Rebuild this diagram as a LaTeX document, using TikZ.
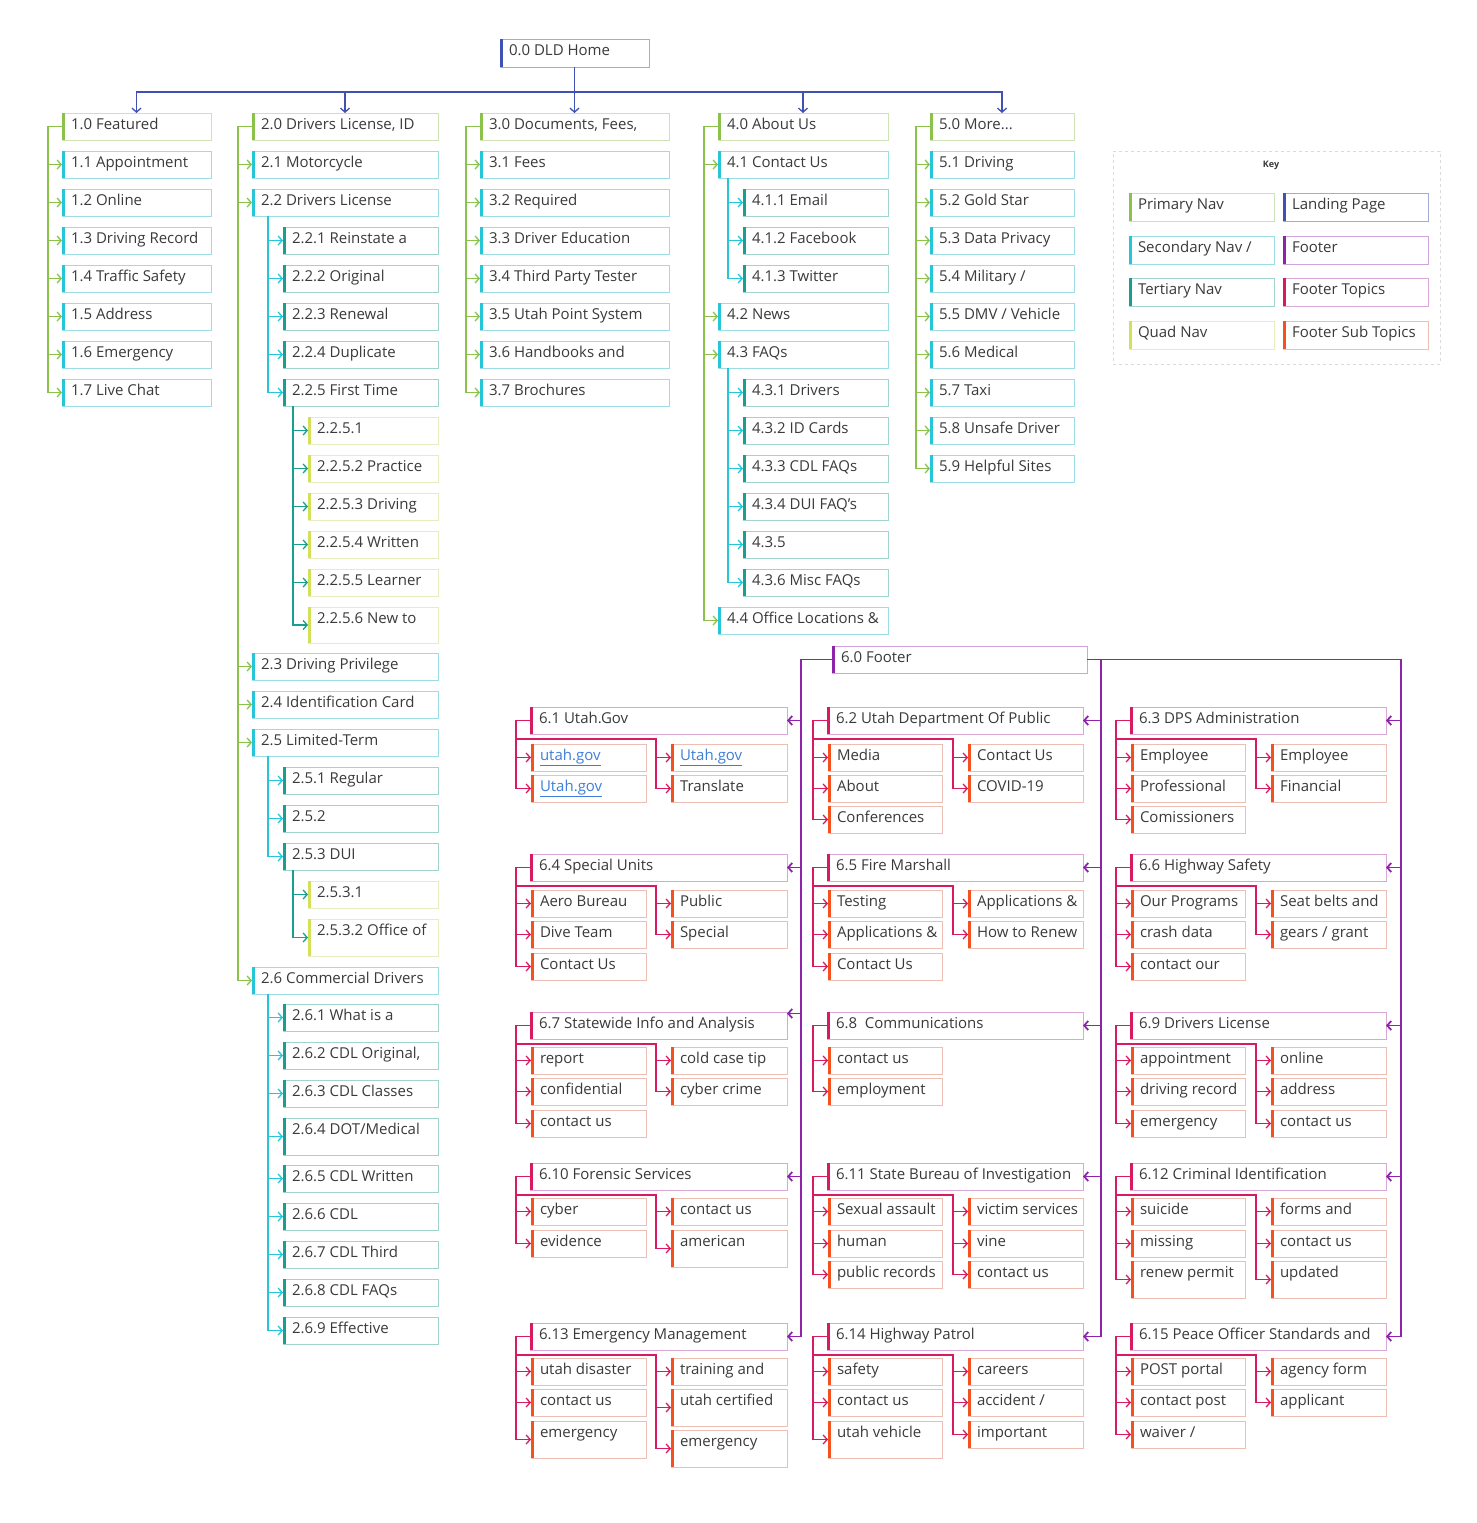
\documentclass[tikz,border=0pt]{standalone}
\usepackage{fontspec}
\setmainfont{Open Sans}
\usetikzlibrary{arrows.meta}
\definecolor{txtc}{HTML}{3A3A3A}
\definecolor{linkc}{HTML}{3F7FD9}
\definecolor{land}{HTML}{3F51B5}\definecolor{landL}{HTML}{A3AAD6}
\definecolor{prim}{HTML}{8BC34A}\definecolor{primL}{HTML}{CDE3B5}
\definecolor{sec}{HTML}{26C6DA}\definecolor{secL}{HTML}{9CDCE4}
\definecolor{tert}{HTML}{1A9E8F}\definecolor{tertL}{HTML}{A0D5CD}
\definecolor{quad}{HTML}{D4E157}\definecolor{quadL}{HTML}{E8EDC0}
\definecolor{foot}{HTML}{8E24AA}\definecolor{footL}{HTML}{CFA4DC}
\definecolor{ftop}{HTML}{D81B60}\definecolor{ftopL}{HTML}{D9A8D6}
\definecolor{fsub}{HTML}{F4511E}\definecolor{fsubL}{HTML}{EDBEB3}
\definecolor{keyL}{HTML}{DADADA}
\newcommand\lnk[1]{\textcolor{linkc}{\underline{#1}}}
\newcommand\navbox[7]{%
  \node[boxsty, draw=#2L, minimum width=#5pt, minimum height=#6pt, anchor=north west] (#1) at (#3,#4) {};
  \node[txtsty, anchor=base west] (#1-t) at ([xshift=9pt,yshift=-16pt]#1.north west) {#7};
  \draw[line width=3pt, #2] ([xshift=1.5pt]#1.north west) -- ([xshift=1.5pt]#1.south west);
}
\tikzset{
  boxsty/.style={rectangle, fill=white, line width=0.9pt, inner sep=0pt, outer sep=0pt},
  txtsty/.style={inner sep=0pt, outer sep=0pt, text=txtc, font=\fontsize{15pt}{17pt}\selectfont},
  tip/.style={-{Straight Barb[length=4pt,width=9pt]}},
  conn/.style={line width=1.3pt, draw=#1, tip},
  fconn/.style={line width=1.8pt, draw=foot, tip},
}
\begin{document}
\begin{tikzpicture}[x=1pt,y=-1pt]
\useasboundingbox[fill=white] (0,0) rectangle (1476,1523);

% ---------- home ----------
\navbox{home}{land}{500}{39}{149}{28}{0.0 DLD Home}

% ---------- column 1 ----------
\navbox{n10}{prim}{62}{113}{149}{27}{1.0 Featured}
\navbox{n11}{sec}{62}{151}{149}{27}{1.1 Appointment}
\navbox{n12}{sec}{62}{189}{149}{27}{1.2 Online}
\navbox{n13}{sec}{62}{227}{149}{27}{1.3 Driving Record}
\navbox{n14}{sec}{62}{265}{149}{27}{1.4 Traffic Safety}
\navbox{n15}{sec}{62}{303}{149}{27}{1.5 Address}
\navbox{n16}{sec}{62}{341}{149}{27}{1.6 Emergency}
\navbox{n17}{sec}{62}{379}{149}{27}{1.7 Live Chat}

% ---------- column 2 ----------
\navbox{n20}{prim}{252}{113}{186}{27}{2.0 Drivers License, ID}
\navbox{n21}{sec}{252}{151}{186}{27}{2.1 Motorcycle}
\navbox{n22}{sec}{252}{189}{186}{27}{2.2 Drivers License}
\navbox{n221}{tert}{283}{227}{155}{27}{2.2.1 Reinstate a}
\navbox{n222}{tert}{283}{265}{155}{27}{2.2.2 Original}
\navbox{n223}{tert}{283}{303}{155}{27}{2.2.3 Renewal}
\navbox{n224}{tert}{283}{341}{155}{27}{2.2.4 Duplicate}
\navbox{n225}{tert}{283}{379}{155}{27}{2.2.5 First Time}
\navbox{n2251}{quad}{308}{417}{130}{27}{2.2.5.1}
\navbox{n2252}{quad}{308}{455}{130}{27}{2.2.5.2 Practice}
\navbox{n2253}{quad}{308}{493}{130}{27}{2.2.5.3 Driving}
\navbox{n2254}{quad}{308}{531}{130}{27}{2.2.5.4 Written}
\navbox{n2255}{quad}{308}{569}{130}{27}{2.2.5.5 Learner}
\navbox{n2256}{quad}{308}{607}{130}{36}{2.2.5.6 New to}
\navbox{n23}{sec}{252}{653}{186}{27}{2.3 Driving Privilege}
\navbox{n24}{sec}{252}{691}{186}{27}{2.4 Identification Card}
\navbox{n25}{sec}{252}{729}{186}{27}{2.5 Limited-Term}
\navbox{n251}{tert}{283}{767}{155}{27}{2.5.1 Regular}
\navbox{n252}{tert}{283}{805}{155}{27}{2.5.2}
\navbox{n253}{tert}{283}{843}{155}{27}{2.5.3 DUI}
\navbox{n2531}{quad}{308}{881}{130}{27}{2.5.3.1}
\navbox{n2532}{quad}{308}{919}{130}{37}{2.5.3.2 Office of}
\navbox{n26}{sec}{252}{967}{186}{27}{2.6 Commercial Drivers}
\navbox{n261}{tert}{283}{1004}{155}{27}{2.6.1 What is a}
\navbox{n262}{tert}{283}{1042}{155}{27}{2.6.2 CDL Original,}
\navbox{n263}{tert}{283}{1080}{155}{27}{2.6.3 CDL Classes}
\navbox{n264}{tert}{283}{1118}{155}{37}{2.6.4 DOT/Medical}
\navbox{n265}{tert}{283}{1165}{155}{27}{2.6.5 CDL Written}
\navbox{n266}{tert}{283}{1203}{155}{27}{2.6.6 CDL}
\navbox{n267}{tert}{283}{1241}{155}{27}{2.6.7 CDL Third}
\navbox{n268}{tert}{283}{1279}{155}{27}{2.6.8 CDL FAQs}
\navbox{n269}{tert}{283}{1317}{155}{27}{2.6.9 Effective}

% ---------- column 3 ----------
\navbox{n30}{prim}{480}{113}{189}{27}{3.0 Documents, Fees,}
\navbox{n31}{sec}{480}{151}{189}{27}{3.1 Fees}
\navbox{n32}{sec}{480}{189}{189}{27}{3.2 Required}
\navbox{n33}{sec}{480}{227}{189}{27}{3.3 Driver Education}
\navbox{n34}{sec}{480}{265}{189}{27}{3.4 Third Party Tester}
\navbox{n35}{sec}{480}{303}{189}{27}{3.5 Utah Point System}
\navbox{n36}{sec}{480}{341}{189}{27}{3.6 Handbooks and}
\navbox{n37}{sec}{480}{379}{189}{27}{3.7 Brochures}

% ---------- column 4 ----------
\navbox{n40}{prim}{718}{113}{170}{27}{4.0 About Us}
\navbox{n41}{sec}{718}{151}{170}{27}{4.1 Contact Us}
\navbox{n411}{tert}{743}{189}{145}{27}{4.1.1 Email}
\navbox{n412}{tert}{743}{227}{145}{27}{4.1.2 Facebook}
\navbox{n413}{tert}{743}{265}{145}{27}{4.1.3 Twitter}
\navbox{n42}{sec}{718}{303}{170}{27}{4.2 News}
\navbox{n43}{sec}{718}{341}{170}{27}{4.3 FAQs}
\navbox{n431}{tert}{743}{379}{145}{27}{4.3.1 Drivers}
\navbox{n432}{tert}{743}{417}{145}{27}{4.3.2 ID Cards}
\navbox{n433}{tert}{743}{455}{145}{27}{4.3.3 CDL FAQs}
\navbox{n434}{tert}{743}{493}{145}{27}{4.3.4 DUI FAQ's}
\navbox{n435}{tert}{743}{531}{145}{27}{4.3.5}
\navbox{n436}{tert}{743}{569}{145}{27}{4.3.6 Misc FAQs}
\navbox{n44}{sec}{718}{607}{170}{27}{4.4 Office Locations \&}

% ---------- column 5 ----------
\navbox{n50}{prim}{930}{113}{144}{27}{5.0 More...}
\navbox{n51}{sec}{930}{151}{144}{27}{5.1 Driving}
\navbox{n52}{sec}{930}{189}{144}{27}{5.2 Gold Star}
\navbox{n53}{sec}{930}{227}{144}{27}{5.3 Data Privacy}
\navbox{n54}{sec}{930}{265}{144}{27}{5.4 Military /}
\navbox{n55}{sec}{930}{303}{144}{27}{5.5 DMV / Vehicle}
\navbox{n56}{sec}{930}{341}{144}{27}{5.6 Medical}
\navbox{n57}{sec}{930}{379}{144}{27}{5.7 Taxi}
\navbox{n58}{sec}{930}{417}{144}{27}{5.8 Unsafe Driver}
\navbox{n59}{sec}{930}{455}{144}{27}{5.9 Helpful Sites}

% ---------- key ----------
\node[draw=keyL, dashed, line width=0.8pt, minimum width=327pt, minimum height=213pt, inner sep=0pt, anchor=north west] (keyf) at (1113,151) {};
\node[text=txtc, font=\bfseries\fontsize{9pt}{10pt}\selectfont, inner sep=0pt] (keyt) at (1271,165) {Key};
\navbox{k1}{prim}{1129}{193}{145}{28}{Primary Nav}
\navbox{k2}{sec}{1129}{236}{145}{28}{Secondary Nav /}
\navbox{k3}{tert}{1129}{278}{145}{28}{Tertiary Nav}
\navbox{k4}{quad}{1129}{321}{145}{28}{Quad Nav}
\navbox{k5}{land}{1283}{193}{145}{28}{Landing Page}
\navbox{k6}{foot}{1283}{236}{145}{28}{Footer}
\navbox{k7}{ftop}{1283}{278}{145}{28}{Footer Topics}
\navbox{k8}{fsub}{1283}{321}{145}{28}{Footer Sub Topics}

% ---------- footer ----------
\navbox{f60}{foot}{832}{646}{255}{27}{6.0 Footer}
\navbox{t1}{ftop}{530}{707}{257}{27}{6.1 Utah.Gov}
\navbox{t2}{ftop}{827}{707}{256}{27}{6.2 Utah Department Of Public}
\navbox{t3}{ftop}{1130}{707}{256}{27}{6.3 DPS Administration}
\navbox{t4}{ftop}{530}{854}{257}{27}{6.4 Special Units}
\navbox{t5}{ftop}{827}{854}{256}{27}{6.5 Fire Marshall}
\navbox{t6}{ftop}{1130}{854}{256}{27}{6.6 Highway Safety}
\navbox{t7}{ftop}{530}{1012}{257}{27}{6.7 Statewide Info and Analysis}
\navbox{t8}{ftop}{827}{1012}{256}{27}{6.8\ \ Communications}
\navbox{t9}{ftop}{1130}{1012}{256}{27}{6.9 Drivers License}
\navbox{t10}{ftop}{530}{1163}{257}{27}{6.10 Forensic Services}
\navbox{t11}{ftop}{827}{1163}{256}{27}{6.11 State Bureau of Investigation}
\navbox{t12}{ftop}{1130}{1163}{256}{27}{6.12 Criminal Identification}
\navbox{t13}{ftop}{530}{1323}{257}{27}{6.13 Emergency Management}
\navbox{t14}{ftop}{827}{1323}{256}{27}{6.14 Highway Patrol}
\navbox{t15}{ftop}{1130}{1323}{256}{27}{6.15 Peace Officer Standards and}

% sub topics row 1
\navbox{s1l1}{fsub}{531}{744}{115}{27}{\lnk{utah.gov}}
\navbox{s1l2}{fsub}{531}{775}{115}{27}{\lnk{Utah.gov}}
\navbox{s1r1}{fsub}{671}{744}{116}{27}{\lnk{Utah.gov}}
\navbox{s1r2}{fsub}{671}{775}{116}{27}{Translate}
\navbox{s2l1}{fsub}{828}{744}{114}{27}{Media}
\navbox{s2l2}{fsub}{828}{775}{114}{27}{About}
\navbox{s2l3}{fsub}{828}{806}{114}{27}{Conferences}
\navbox{s2r1}{fsub}{968}{744}{115}{27}{Contact Us}
\navbox{s2r2}{fsub}{968}{775}{115}{27}{COVID-19}
\navbox{s3l1}{fsub}{1131}{744}{114}{27}{Employee}
\navbox{s3l2}{fsub}{1131}{775}{114}{27}{Professional}
\navbox{s3l3}{fsub}{1131}{806}{114}{27}{Comissioners}
\navbox{s3r1}{fsub}{1271}{744}{115}{27}{Employee}
\navbox{s3r2}{fsub}{1271}{775}{115}{27}{Financial}
% row 2
\navbox{s4l1}{fsub}{531}{890}{115}{27}{Aero Bureau}
\navbox{s4l2}{fsub}{531}{921}{115}{27}{Dive Team}
\navbox{s4l3}{fsub}{531}{953}{115}{27}{Contact Us}
\navbox{s4r1}{fsub}{671}{890}{116}{27}{Public}
\navbox{s4r2}{fsub}{671}{921}{116}{27}{Special}
\navbox{s5l1}{fsub}{828}{890}{114}{27}{Testing}
\navbox{s5l2}{fsub}{828}{921}{114}{27}{Applications \&}
\navbox{s5l3}{fsub}{828}{953}{114}{27}{Contact Us}
\navbox{s5r1}{fsub}{968}{890}{115}{27}{Applications \&}
\navbox{s5r2}{fsub}{968}{921}{115}{27}{How to Renew}
\navbox{s6l1}{fsub}{1131}{890}{114}{27}{Our Programs}
\navbox{s6l2}{fsub}{1131}{921}{114}{27}{crash data}
\navbox{s6l3}{fsub}{1131}{953}{114}{27}{contact our}
\navbox{s6r1}{fsub}{1271}{890}{115}{27}{Seat belts and}
\navbox{s6r2}{fsub}{1271}{921}{115}{27}{gears / grant}
% row 3
\navbox{s7l1}{fsub}{531}{1047}{115}{27}{report}
\navbox{s7l2}{fsub}{531}{1078}{115}{27}{confidential}
\navbox{s7l3}{fsub}{531}{1110}{115}{27}{contact us}
\navbox{s7r1}{fsub}{671}{1047}{116}{27}{cold case tip}
\navbox{s7r2}{fsub}{671}{1078}{116}{27}{cyber crime}
\navbox{s8l1}{fsub}{828}{1047}{114}{27}{contact us}
\navbox{s8l2}{fsub}{828}{1078}{114}{27}{employment}
\navbox{s9l1}{fsub}{1131}{1047}{114}{27}{appointment}
\navbox{s9l2}{fsub}{1131}{1078}{114}{27}{driving record}
\navbox{s9l3}{fsub}{1131}{1110}{114}{27}{emergency}
\navbox{s9r1}{fsub}{1271}{1047}{115}{27}{online}
\navbox{s9r2}{fsub}{1271}{1078}{115}{27}{address}
\navbox{s9r3}{fsub}{1271}{1110}{115}{27}{contact us}
% row 4
\navbox{s10l1}{fsub}{531}{1198}{115}{27}{cyber}
\navbox{s10l2}{fsub}{531}{1230}{115}{27}{evidence}
\navbox{s10r1}{fsub}{671}{1198}{116}{27}{contact us}
\navbox{s10r2}{fsub}{671}{1230}{116}{37}{american}
\navbox{s11l1}{fsub}{828}{1198}{114}{27}{Sexual assault}
\navbox{s11l2}{fsub}{828}{1230}{114}{27}{human}
\navbox{s11l3}{fsub}{828}{1261}{114}{27}{public records}
\navbox{s11r1}{fsub}{968}{1198}{115}{27}{victim services}
\navbox{s11r2}{fsub}{968}{1230}{115}{27}{vine}
\navbox{s11r3}{fsub}{968}{1261}{115}{27}{contact us}
\navbox{s12l1}{fsub}{1131}{1198}{114}{27}{suicide}
\navbox{s12l2}{fsub}{1131}{1230}{114}{27}{missing}
\navbox{s12l3}{fsub}{1131}{1261}{114}{37}{renew permit}
\navbox{s12r1}{fsub}{1271}{1198}{115}{27}{forms and}
\navbox{s12r2}{fsub}{1271}{1230}{115}{27}{contact us}
\navbox{s12r3}{fsub}{1271}{1261}{115}{37}{updated}
% row 5
\navbox{s13l1}{fsub}{531}{1358}{115}{27}{utah disaster}
\navbox{s13l2}{fsub}{531}{1389}{115}{27}{contact us}
\navbox{s13l3}{fsub}{531}{1421}{115}{37}{emergency}
\navbox{s13r1}{fsub}{671}{1358}{116}{27}{training and}
\navbox{s13r2}{fsub}{671}{1389}{116}{37}{utah certified}
\navbox{s13r3}{fsub}{671}{1430}{116}{37}{emergency}
\navbox{s14l1}{fsub}{828}{1358}{114}{27}{safety}
\navbox{s14l2}{fsub}{828}{1389}{114}{27}{contact us}
\navbox{s14l3}{fsub}{828}{1421}{114}{37}{utah vehicle}
\navbox{s14r1}{fsub}{968}{1358}{115}{27}{careers}
\navbox{s14r2}{fsub}{968}{1389}{115}{27}{accident /}
\navbox{s14r3}{fsub}{968}{1421}{115}{27}{important}
\navbox{s15l1}{fsub}{1131}{1358}{114}{27}{POST portal}
\navbox{s15l2}{fsub}{1131}{1389}{114}{27}{contact post}
\navbox{s15l3}{fsub}{1131}{1421}{114}{27}{waiver /}
\navbox{s15r1}{fsub}{1271}{1358}{115}{27}{agency form}
\navbox{s15r2}{fsub}{1271}{1389}{115}{27}{applicant}

% ================= connectors =================
% home to columns
\foreach \c in {n10,n20,n30,n40,n50}
  \draw[conn=land] (home.south) -- ++(0,25) -| (\c.north);

% root trunks (from parent's left side)
\foreach \c in {n11,n12,n13,n14,n15,n16,n17}
  \draw[conn=prim] (n10.west) -| ([xshift=-14pt]\c.west) -- (\c.west);
\foreach \c in {n21,n22,n23,n24,n25,n26}
  \draw[conn=prim] (n20.west) -| ([xshift=-14pt]\c.west) -- (\c.west);
\foreach \c in {n31,n32,n33,n34,n35,n36,n37}
  \draw[conn=prim] (n30.west) -| ([xshift=-14pt]\c.west) -- (\c.west);
\foreach \c in {n41,n42,n43,n44}
  \draw[conn=prim] (n40.west) -| ([xshift=-14pt]\c.west) -- (\c.west);
\foreach \c in {n51,n52,n53,n54,n55,n56,n57,n58,n59}
  \draw[conn=prim] (n50.west) -| ([xshift=-14pt]\c.west) -- (\c.west);

% nested trunks (from parent's bottom)
\foreach \p/\c/\col in {n22/n221/sec,n22/n222/sec,n22/n223/sec,n22/n224/sec,n22/n225/sec,
  n225/n2251/tert,n225/n2252/tert,n225/n2253/tert,n225/n2254/tert,n225/n2255/tert,n225/n2256/tert,
  n25/n251/sec,n25/n252/sec,n25/n253/sec,
  n253/n2531/tert,n253/n2532/tert,
  n26/n261/sec,n26/n262/sec,n26/n263/sec,n26/n264/sec,n26/n265/sec,n26/n266/sec,n26/n267/sec,n26/n268/sec,n26/n269/sec,
  n41/n411/sec,n41/n412/sec,n41/n413/sec,
  n43/n431/sec,n43/n432/sec,n43/n433/sec,n43/n434/sec,n43/n435/sec,n43/n436/sec}
  \draw[conn=\col] ([xshift=-15pt]\c.west |- \p.south) |- (\c.west);

% footer to topics
\foreach \t in {t1,t4,t10,t13}
  \draw[fconn] (f60.west) -| ([xshift=14pt]\t.east) -- (\t.east);
\draw[fconn] (f60.west) -| ([xshift=14pt,yshift=12pt]t7.east) -- ([yshift=12pt]t7.east);
\foreach \t in {t2,t5,t8,t11,t14}
  \draw[fconn] (f60.east) -| ([xshift=18pt]\t.east) -- (\t.east);
\foreach \t in {t3,t6,t9,t12,t15}
  \draw[fconn] (f60.east) -| ([xshift=15pt]\t.east) -- (\t.east);

% topics to left sub topics
\foreach \t/\s in {t1/s1l1,t1/s1l2,t2/s2l1,t2/s2l2,t2/s2l3,t3/s3l1,t3/s3l2,t3/s3l3,
  t4/s4l1,t4/s4l2,t4/s4l3,t5/s5l1,t5/s5l2,t5/s5l3,t6/s6l1,t6/s6l2,t6/s6l3,
  t7/s7l1,t7/s7l2,t7/s7l3,t8/s8l1,t8/s8l2,t9/s9l1,t9/s9l2,t9/s9l3,
  t10/s10l1,t10/s10l2,t11/s11l1,t11/s11l2,t11/s11l3,t12/s12l1,t12/s12l2,t12/s12l3,
  t13/s13l1,t13/s13l2,t13/s13l3,t14/s14l1,t14/s14l2,t14/s14l3,t15/s15l1,t15/s15l2,t15/s15l3}
  \draw[conn=ftop] (\t.west) -| ([xshift=-15pt]\s.west) -- (\s.west);

% topics to right sub topics
\foreach \t/\s in {t1/s1r1,t1/s1r2,t2/s2r1,t2/s2r2,t3/s3r1,t3/s3r2,
  t4/s4r1,t4/s4r2,t5/s5r1,t5/s5r2,t6/s6r1,t6/s6r2,
  t7/s7r1,t7/s7r2,t9/s9r1,t9/s9r2,t9/s9r3,
  t10/s10r1,t10/s10r2,t11/s11r1,t11/s11r2,t11/s11r3,t12/s12r1,t12/s12r2,t12/s12r3,
  t13/s13r1,t13/s13r2,t13/s13r3,t14/s14r1,t14/s14r2,t14/s14r3,t15/s15r1,t15/s15r2}
  \draw[conn=ftop] (\t.west) -| ([xshift=-14pt,yshift=-5pt]\t.south west) -| ([xshift=-15pt]\s.west) -- (\s.west);
\end{tikzpicture}
\end{document}
